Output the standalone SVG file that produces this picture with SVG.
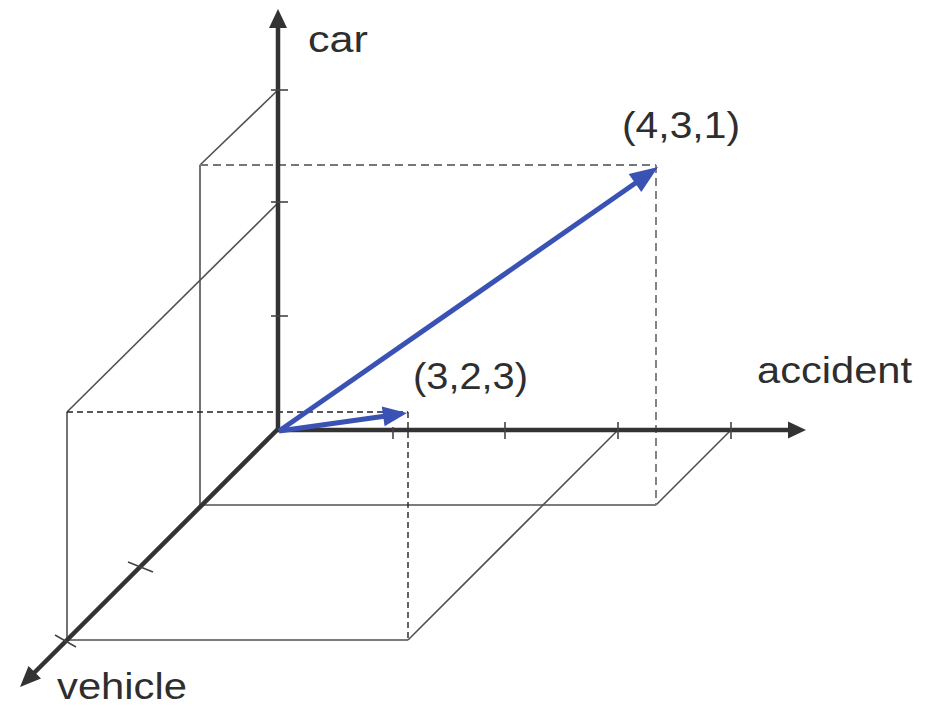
<svg xmlns="http://www.w3.org/2000/svg" width="928" height="707" viewBox="0 0 928 707">
<style>
.axis{stroke:#333;stroke-width:4.5;fill:none}
.head{fill:#333;stroke:none}
.tick{stroke:#444;stroke-width:1.6;fill:none}
.thin{stroke:#505050;stroke-width:1.6;fill:none}
.dashA{stroke:#777;stroke-width:1.8;stroke-dasharray:8,5;fill:none}
.dashB{stroke:#222;stroke-width:1.4;stroke-dasharray:6,4;fill:none}
.vec{stroke:#3a52b4;stroke-width:5;fill:none}
.vhead{fill:#3a52b4;stroke:none}
.lbl{font-family:"Liberation Sans",Arial,sans-serif;font-size:36px;fill:#2e2e2e}
</style>
<rect width="928" height="707" fill="#fff"/>
<g id="connectors">
  <line class="thin" x1="200" y1="165" x2="200" y2="505"/>
  <line class="thin" x1="200" y1="505" x2="656" y2="505"/>
  <line class="thin" x1="656" y1="505" x2="731" y2="430"/>
  <line class="thin" x1="200" y1="165" x2="278" y2="90"/>
  <line class="dashA" x1="200" y1="165" x2="656" y2="165"/>
  <line class="dashA" x1="656" y1="165" x2="656" y2="505"/>
  <line class="thin" x1="67" y1="412" x2="67" y2="640"/>
  <line class="thin" x1="67" y1="640" x2="408" y2="640"/>
  <line class="thin" x1="408" y1="640" x2="618" y2="430"/>
  <line class="thin" x1="67" y1="412" x2="278" y2="203"/>
  <line class="dashB" x1="67" y1="412" x2="408" y2="412"/>
  <line class="dashB" x1="408" y1="412" x2="408" y2="640"/>
</g>
<g id="axis-car">
  <line class="axis" x1="278" y1="432" x2="278" y2="26"/>
  <polygon class="head" points="278,9 287,28 269,28"/>
  <line class="tick" x1="271" y1="90" x2="288" y2="90"/>
  <line class="tick" x1="271" y1="202" x2="288" y2="202"/>
  <line class="tick" x1="271" y1="316" x2="288" y2="316"/>
  <text class="lbl" x="308" y="52" textLength="60" lengthAdjust="spacingAndGlyphs">car</text>
</g>
<g id="axis-accident">
  <line class="axis" x1="276" y1="430" x2="790" y2="430"/>
  <polygon class="head" points="806,430 788,421.5 788,438.5"/>
  <line class="tick" x1="393" y1="427" x2="393" y2="439"/>
  <line class="tick" x1="505" y1="422" x2="505" y2="439"/>
  <line class="tick" x1="618" y1="422" x2="618" y2="439"/>
  <line class="tick" x1="731" y1="422" x2="731" y2="439"/>
  <text class="lbl" x="757" y="383" textLength="155" lengthAdjust="spacingAndGlyphs">accident</text>
</g>
<g id="axis-vehicle">
  <line class="axis" x1="278" y1="429" x2="33" y2="674"/>
  <polygon class="head" points="20,687 28.5,666 41,678.5"/>
  <line class="tick" x1="128" y1="562" x2="153" y2="572"/>
  <line class="tick" x1="55" y1="635" x2="76" y2="647"/>
  <text class="lbl" x="57" y="699" textLength="130" lengthAdjust="spacingAndGlyphs">vehicle</text>
</g>
<g id="vector-431">
  <line class="vec" x1="279" y1="431" x2="637" y2="182"/>
  <polygon class="vhead" points="658,167 641.3,192 628.7,174"/>
  <text class="lbl" x="622" y="138" textLength="118" lengthAdjust="spacingAndGlyphs">(4,3,1)</text>
</g>
<g id="vector-323">
  <line class="vec" x1="279" y1="431" x2="386" y2="416"/>
  <polygon class="vhead" points="407,413 384.6,426.3 381.8,406.5"/>
  <text class="lbl" x="413" y="389" textLength="115" lengthAdjust="spacingAndGlyphs">(3,2,3)</text>
</g>
</svg>
